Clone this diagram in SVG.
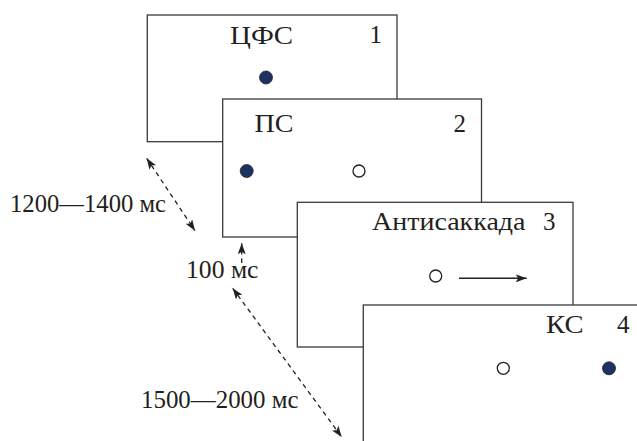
<svg xmlns="http://www.w3.org/2000/svg" width="637" height="441" viewBox="0 0 637 441">
<defs>
<style>
.box{fill:#fff;stroke:#3a3a3a;stroke-width:1.3}
.t{font-family:'Liberation Serif','Times New Roman',serif;font-size:25px;fill:#231f20}
.fd{fill:#1c3263;stroke:#222;stroke-width:0.8}
.od{fill:#fff;stroke:#231f20;stroke-width:1.3}
.dash{fill:none;stroke:#231f20;stroke-width:1.3;stroke-dasharray:4.5 4}
.sol{fill:none;stroke:#231f20;stroke-width:1.4}
</style>
<marker id="ah" viewBox="0 0 11 8" refX="11" refY="4" markerWidth="11" markerHeight="8" markerUnits="userSpaceOnUse" orient="auto-start-reverse">
<path d="M0,0 L11,4 L0,8 L2.5,4 Z" fill="#231f20"/>
</marker>
</defs>
<g id="frame1">
<rect class="box" x="147.3" y="15" width="249.7" height="126.7"/>
<text class="t" x="230" y="44" textLength="63" lengthAdjust="spacingAndGlyphs">ЦФС</text>
<text class="t" x="369.5" y="43">1</text>
<circle class="fd" cx="266" cy="77.5" r="6.5"/>
</g>
<g id="frame2">
<rect class="box" x="222.7" y="99" width="258.8" height="138"/>
<text class="t" x="254.5" y="132" textLength="39" lengthAdjust="spacingAndGlyphs">ПС</text>
<text class="t" x="453.5" y="132">2</text>
<circle class="fd" cx="246.7" cy="171" r="6.5"/>
<circle class="od" cx="359" cy="171" r="6"/>
</g>
<g id="frame3">
<rect class="box" x="297.3" y="202.3" width="275.7" height="144.7"/>
<text class="t" x="372" y="230" textLength="153.5" lengthAdjust="spacingAndGlyphs">Антисаккада</text>
<text class="t" x="543" y="230">3</text>
<circle class="od" cx="435.7" cy="276" r="6"/>
</g>
<g id="frame4">
<rect class="box" x="363.3" y="305" width="290" height="150"/>
<text class="t" x="546" y="333" textLength="37.5" lengthAdjust="spacingAndGlyphs">КС</text>
<text class="t" x="617" y="333">4</text>
<circle class="od" cx="503.3" cy="368.3" r="6"/>
<circle class="fd" cx="609" cy="368.3" r="6.5"/>
</g>
<g id="connectors">
<line class="sol" x1="459" y1="278.3" x2="526.7" y2="278.3" marker-end="url(#ah)"/>
<line class="dash" x1="146.7" y1="158.3" x2="195" y2="230.7" marker-start="url(#ah)" marker-end="url(#ah)"/>
<line class="dash" x1="241.7" y1="263" x2="241.7" y2="243.3" marker-end="url(#ah)"/>
<line class="dash" x1="232.7" y1="288.3" x2="341.7" y2="437" marker-start="url(#ah)" marker-end="url(#ah)"/>
</g>
<g id="labels">
<text class="t" x="10" y="211.7" textLength="156" lengthAdjust="spacingAndGlyphs">1200—1400 мс</text>
<text class="t" x="186" y="277.7" textLength="72.5" lengthAdjust="spacingAndGlyphs">100 мс</text>
<text class="t" x="141" y="407.7" textLength="157.5" lengthAdjust="spacingAndGlyphs">1500—2000 мс</text>
</g>
</svg>
